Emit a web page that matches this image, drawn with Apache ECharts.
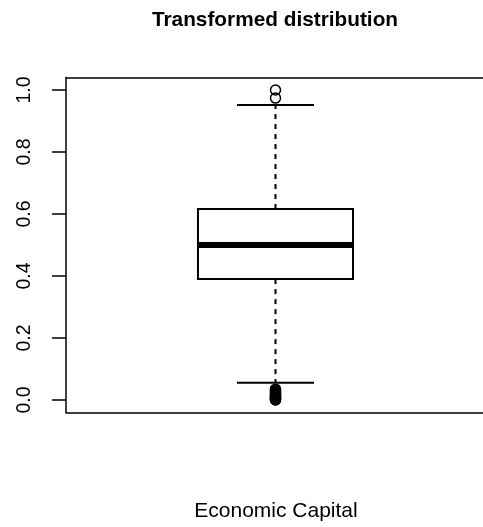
<!DOCTYPE html>
<html>
<head>
<meta charset="utf-8">
<script src="https://cdn.jsdelivr.net/npm/echarts@6/dist/echarts.min.js"></script>
<style>
html,body{margin:0;padding:0;background:#fff;}
#main{width:483px;height:527px;}
</style>
</head>
<body>
<div id="main"></div>
<script>
var chartTitle = 'Transformed distribution';
var categoryName = 'Economic Capital';
// whisker low, Q1, median, Q3, whisker high
var boxStats = [0.056, 0.39, 0.50, 0.616, 0.952];
var outliersHigh = [1.0, 0.974];
var outliersLow = [0.035, 0.032, 0.029, 0.026, 0.023, 0.021, 0.018, 0.016, 0.013, 0.011, 0.009, 0.007, 0.005, 0.003, 0.002, 0.001, 0.0];
var yTicks = [0.0, 0.2, 0.4, 0.6, 0.8, 1.0];

var boxPos = 0.5024;
var outlierData = outliersHigh.concat(outliersLow).map(function (v) { return [boxPos, v]; });

var chart = echarts.init(document.getElementById('main'), null, {renderer: 'canvas'});

function renderBox(params, api) {
  var x = api.value(0);
  var lo = api.coord([x, api.value(1)]);
  var q1 = api.coord([x, api.value(2)]);
  var med = api.coord([x, api.value(3)]);
  var q3 = api.coord([x, api.value(4)]);
  var hi = api.coord([x, api.value(5)]);
  var halfW = api.size([0.1859, 0])[0];
  var capW = api.size([0.0923, 0])[0];
  var cx = lo[0];
  var st = {stroke: '#000', lineWidth: 2, fill: null};
  var dash = {stroke: '#000', lineWidth: 2, lineDash: [5, 5], fill: null};
  return {
    type: 'group',
    children: [
      {type: 'line', shape: {x1: cx, y1: q3[1], x2: cx, y2: hi[1]}, style: dash},
      {type: 'line', shape: {x1: cx, y1: q1[1], x2: cx, y2: lo[1]}, style: dash},
      {type: 'line', shape: {x1: cx - capW, y1: hi[1], x2: cx + capW, y2: hi[1]}, style: st},
      {type: 'line', shape: {x1: cx - capW, y1: lo[1], x2: cx + capW, y2: lo[1]}, style: st},
      {type: 'rect', shape: {x: cx - halfW, y: q3[1], width: halfW * 2, height: q1[1] - q3[1]}, style: {stroke: '#000', lineWidth: 2, fill: '#fff'}},
      {type: 'line', shape: {x1: cx - halfW, y1: med[1], x2: cx + halfW, y2: med[1]}, style: {stroke: '#000', lineWidth: 6}}
    ]
  };
}

var frameLine = {show: true, onZero: false, lineStyle: {color: '#000', width: 1.5}};

chart.setOption({
  animation: false,
  backgroundColor: '#fff',
  textStyle: {fontFamily: 'Liberation Sans, Arial, sans-serif'},
  graphic: [{
    type: 'text',
    x: 275,
    y: 20.5,
    style: {text: chartTitle, font: 'bold 20.8px "Liberation Sans", Arial, sans-serif', fill: '#000', textAlign: 'center', textVerticalAlign: 'middle'}
  }, {
    type: 'text',
    x: 276,
    y: 511,
    style: {text: categoryName, font: '21px "Liberation Sans", Arial, sans-serif', fill: '#000', textAlign: 'center', textVerticalAlign: 'middle'}
  }],
  grid: {left: 66, top: 77.6, right: 0, height: 334.8, show: false},
  xAxis: [{
    type: 'value', min: 0, max: 1, position: 'bottom',
    axisLine: frameLine, axisTick: {show: false}, axisLabel: {show: false}, splitLine: {show: false}
  }, {
    type: 'value', min: 0, max: 1, position: 'top',
    axisLine: frameLine, axisTick: {show: false}, axisLabel: {show: false}, splitLine: {show: false}
  }],
  yAxis: {
    type: 'value', min: -0.04, max: 1.04,
    axisLine: frameLine,
    splitLine: {show: false},
    axisTick: {show: true, inside: false, length: 14, customValues: yTicks, lineStyle: {color: '#000', width: 1.5}},
    axisLabel: {
      show: true, rotate: 90, margin: 31, customValues: yTicks,
      color: '#000', fontSize: 19.5, fontFamily: 'Liberation Sans, Arial, sans-serif',
      formatter: function (v) { return v.toFixed(1); }
    }
  },
  series: [
    {
      type: 'custom',
      renderItem: renderBox,
      encode: {x: 0, y: [1, 2, 3, 4, 5]},
      data: [[boxPos].concat(boxStats)],
      z: 2
    },
    {
      type: 'scatter',
      data: outlierData,
      symbol: 'circle',
      symbolSize: 10,
      itemStyle: {color: 'transparent', borderColor: '#000', borderWidth: 1.5, opacity: 1},
      z: 3
    }
  ]
});
</script>
</body>
</html>
